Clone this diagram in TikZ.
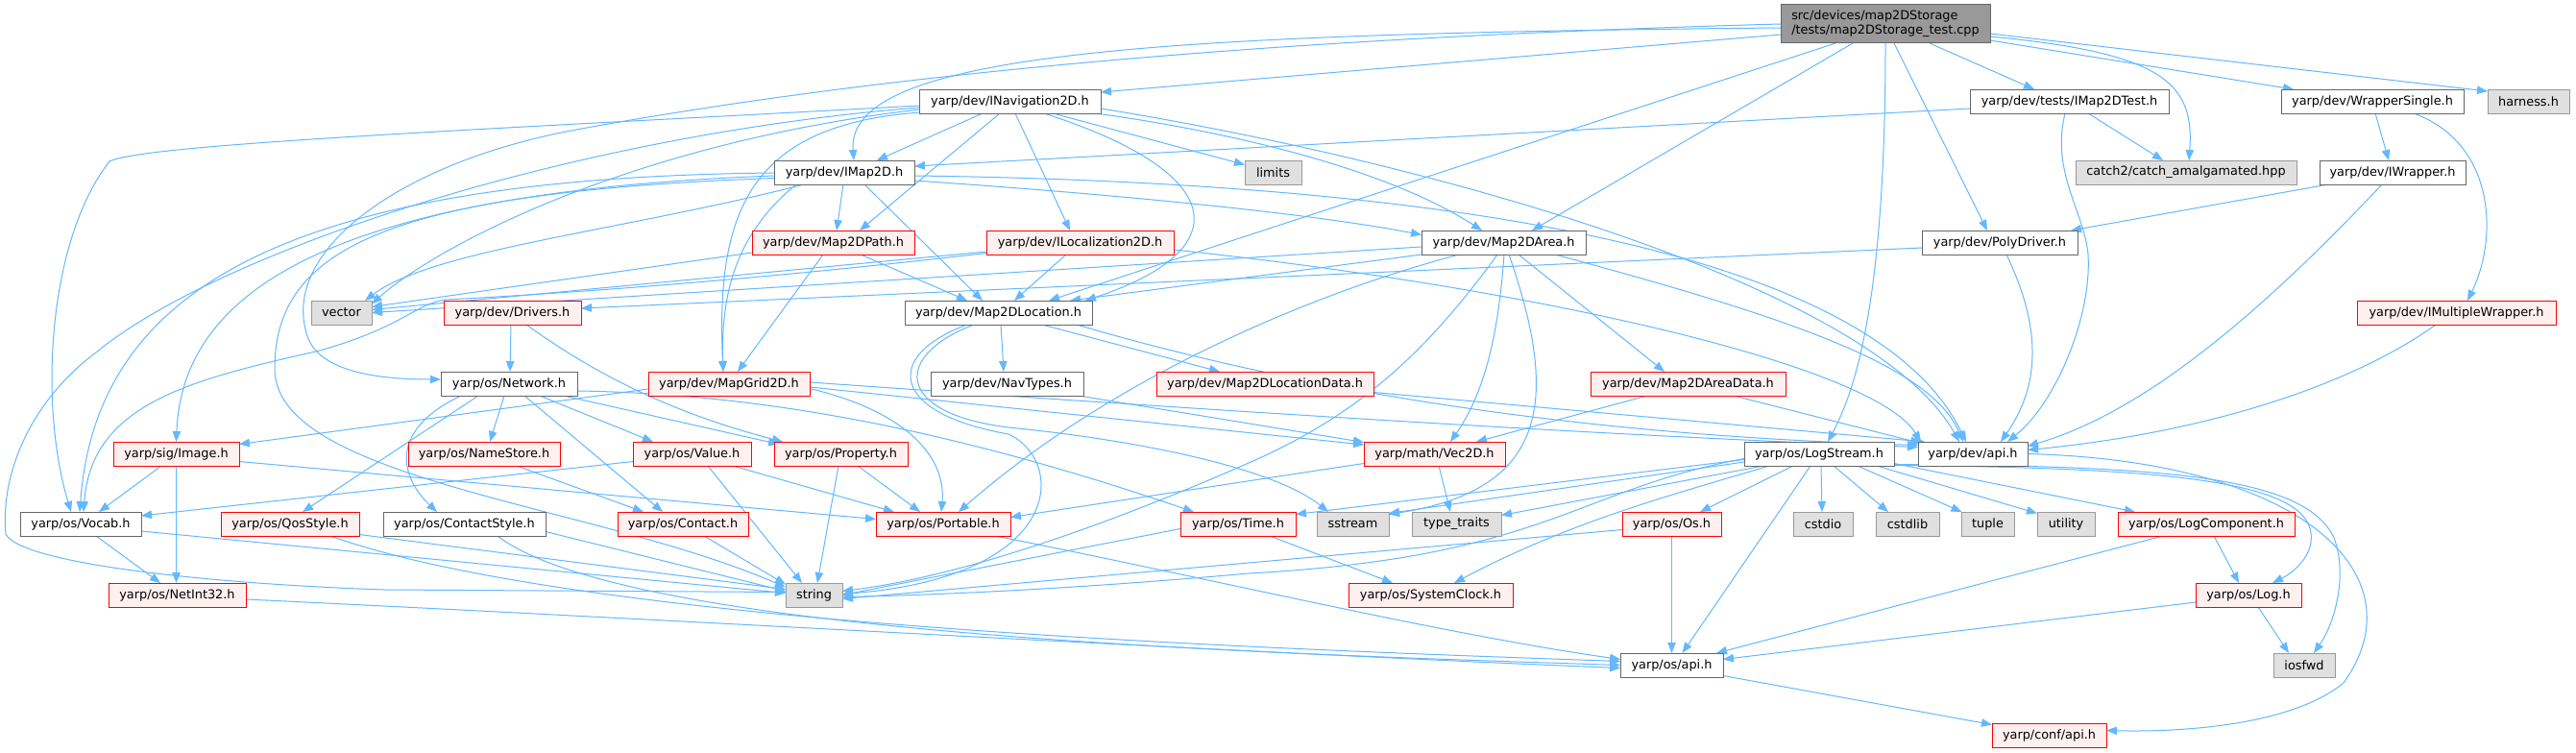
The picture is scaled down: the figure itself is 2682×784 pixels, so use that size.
\documentclass[tikz,border=0pt]{standalone}
\usepackage{fontspec}
\setmainfont{DejaVu Sans}
\usetikzlibrary{calc,arrows.meta}
\pgfdeclarelayer{bgl}
\pgfdeclarelayer{edl}
\pgfsetlayers{bgl,edl,main}
\definecolor{edgec}{HTML}{63B8FF}
\definecolor{bordg}{HTML}{666666}
\definecolor{fillr}{HTML}{FFF0F0}
\definecolor{bordgr}{HTML}{999999}
\definecolor{fillgr}{HTML}{E0E0E0}
\definecolor{fillroot}{HTML}{999999}
\begin{document}
\begin{tikzpicture}[x=1pt,y=-1pt,
  font=\fontsize{12.85}{15}\selectfont,
  bx/.style={draw=bordg,fill=white,line width=1pt,inner sep=0pt,outer sep=0pt,minimum height=25pt},
  br/.style={bx,draw=red,fill=fillr},
  bg/.style={bx,draw=bordgr,fill=fillgr},
  ed/.style={draw=edgec,line width=1pt,-{Triangle[length=11pt,width=8.5pt]}}]
\useasboundingbox (0,0) rectangle (2682,784);
\begin{pgfonlayer}{bgl}
\fill[white] (0,0) rectangle (2682,784);
\end{pgfonlayer}
% nodes
\node[bx,fill=fillroot,minimum width=218pt,minimum height=40pt,align=left] (root) at (1963,25) {src/devices/map2DStorage\\/tests/map2DStorage\_test.cpp};
\node[bx,minimum width=189pt] (nav) at (1051.5,105.5) {yarp/dev/INavigation2D.h};
\node[bx,minimum width=207pt] (test) at (2154.5,105.5) {yarp/dev/tests/IMap2DTest.h};
\node[bx,minimum width=190pt] (wsingle) at (2470,105.5) {yarp/dev/WrapperSingle.h};
\node[bg,minimum width=85pt] (harness) at (2632.5,105.5) {harness.h};
\node[bx,minimum width=146pt] (imap) at (879,179.5) {yarp/dev/IMap2D.h};
\node[bg,minimum width=59pt] (limits) at (1325.5,179.5) {limits};
\node[bg,minimum width=230pt] (catch) at (2276,179.5) {catch2/catch\_amalgamated.hpp};
\node[bx,minimum width=152pt] (iwrap) at (2491,179.5) {yarp/dev/IWrapper.h};
\node[br,minimum width=169pt] (path) at (867.5,252.5) {yarp/dev/Map2DPath.h};
\node[br,minimum width=195pt] (iloc) at (1124.5,252.5) {yarp/dev/ILocalization2D.h};
\node[bx,minimum width=171pt] (area) at (1565.5,252.5) {yarp/dev/Map2DArea.h};
\node[bx,minimum width=162pt] (poly) at (2082,252.5) {yarp/dev/PolyDriver.h};
\node[bg,minimum width=63pt] (vector) at (355.5,325.5) {vector};
\node[br,minimum width=143pt] (drivers) at (533.5,325.5) {yarp/dev/Drivers.h};
\node[bx,minimum width=195pt] (loc) at (1039.5,325.5) {yarp/dev/Map2DLocation.h};
\node[br,minimum width=207pt] (imw) at (2557.5,325.5) {yarp/dev/IMultipleWrapper.h};
\node[bx,minimum width=142pt] (network) at (530,399.5) {yarp/os/Network.h};
\node[br,minimum width=168pt] (grid) at (759,399.5) {yarp/dev/MapGrid2D.h};
\node[bx,minimum width=159pt] (navtypes) at (1048.5,399.5) {yarp/dev/NavTypes.h};
\node[br,minimum width=226pt] (locdata) at (1317,399.5) {yarp/dev/Map2DLocationData.h};
\node[br,minimum width=203pt] (areadata) at (1757.5,399.5) {yarp/dev/Map2DAreaData.h};
\node[br,minimum width=131pt] (image) at (183.5,472.5) {yarp/sig/Image.h};
\node[br,minimum width=158pt] (namestore) at (504,472.5) {yarp/os/NameStore.h};
\node[br,minimum width=123pt] (value) at (720.5,472.5) {yarp/os/Value.h};
\node[br,minimum width=139pt] (property) at (875.5,472.5) {yarp/os/Property.h};
\node[br,minimum width=147pt] (vec2d) at (1493.5,472.5) {yarp/math/Vec2D.h};
\node[bx,minimum width=156pt] (logstream) at (1894,472.5) {yarp/os/LogStream.h};
\node[bx,minimum width=114pt] (devapi) at (2054,472.5) {yarp/dev/api.h};
\node[bx,minimum width=126pt] (vocab) at (84,545.5) {yarp/os/Vocab.h};
\node[br,minimum width=144pt] (qos) at (302,545.5) {yarp/os/QosStyle.h};
\node[bx,minimum width=169pt] (cstyle) at (483.5,545.5) {yarp/os/ContactStyle.h};
\node[br,minimum width=136pt] (contact) at (711,545.5) {yarp/os/Contact.h};
\node[br,minimum width=140pt] (portable) at (982,545.5) {yarp/os/Portable.h};
\node[br,minimum width=120pt] (time) at (1289,545.5) {yarp/os/Time.h};
\node[bg,minimum width=75pt] (sstream) at (1408.5,545.5) {sstream};
\node[bg,minimum width=93pt] (ttraits) at (1516.5,545.5) {type\_traits};
\node[br,minimum width=103pt] (os) at (1740.5,545.5) {yarp/os/Os.h};
\node[bg,minimum width=62pt] (cstdio) at (1898,545.5) {cstdio};
\node[bg,minimum width=66pt] (cstdlib) at (1986,545.5) {cstdlib};
\node[bg,minimum width=55pt] (tuple) at (2069.5,545.5) {tuple};
\node[bg,minimum width=60pt] (utility) at (2151,545.5) {utility};
\node[br,minimum width=184pt] (logcomp) at (2297,545.5) {yarp/os/LogComponent.h};
\node[br,minimum width=143pt] (netint) at (184.5,619.5) {yarp/os/NetInt32.h};
\node[bg,minimum width=59pt] (string) at (847.5,619.5) {string};
\node[br,minimum width=171pt] (sysclock) at (1489.5,619.5) {yarp/os/SystemClock.h};
\node[br,minimum width=110pt] (log) at (2341,619.5) {yarp/os/Log.h};
\node[bx,minimum width=107pt] (osapi) at (1740.5,692.5) {yarp/os/api.h};
\node[bg,minimum width=64pt] (iosfwd) at (2399,692.5) {iosfwd};
\node[br,minimum width=119pt] (confapi) at (2133.5,765.5) {yarp/conf/api.h};
% edges
\begin{pgfonlayer}{edl}
% root
\draw[ed] ($(root)+(-109,11)$) -- ($(nav)+(94.5,-9.5)$);
\draw[ed] ($(root)+(-109,4)$) .. controls (1200,35) and (880,55) .. ($(imap)+(10,-12.5)$);
\draw[ed] ($(root)+(-34,20)$) -- ($(area)+(29.5,-12.5)$);
\draw[ed] ($(root)+(-52,20)$) -- ($(loc)+(52.5,-12.5)$);
\draw[ed] ($(root)+(0,20)$) .. controls (1963,300) and (1935,400) .. ($(logstream)+(9,-12.5)$);
\draw[ed] ($(root)+(9,20)$) -- ($(poly)+(-13,-12.5)$);
\draw[ed] ($(root)+(46,20)$) -- ($(test)+(-36.5,-12.5)$);
\draw[ed] ($(root)+(109,13)$) .. controls (2250,55) and (2285,85) .. ($(catch)+(3,-12.5)$);
\draw[ed] ($(root)+(109,17)$) -- ($(wsingle)+(-82,-12.5)$);
\draw[ed] ($(root)+(109,10)$) -- ($(harness)+(-42.5,-10.5)$);
\draw[ed] ($(root)+(-109,0)$) .. controls (1300,40) and (900,80) .. (600,135) .. controls (420,168) and (290,260) .. (320,350) .. controls (333,389) and (400,395) .. ($(network)+(-71,-4.5)$);
% nav
\draw[ed] ($(nav)+(-28.5,12.5)$) -- ($(imap)+(34,-12.5)$);
\draw[ed] ($(nav)+(-10.5,12.5)$) -- ($(path)+(27.5,-12.5)$);
\draw[ed] ($(nav)+(5.5,12.5)$) -- ($(iloc)+(-10.5,-12.5)$);
\draw[ed] ($(nav)+(35.5,12.5)$) .. controls (1280,180) and (1290,260) .. ($(loc)+(90.5,-12.5)$);
\draw[ed] ($(nav)+(44.5,12.5)$) -- ($(limits)+(-29.5,-8)$);
\draw[ed] ($(nav)+(89.5,12.5)$) .. controls (1300,140) and (1450,180) .. ($(area)+(-22.5,-12.5)$);
\draw[ed] ($(nav)+(94.5,7.5)$) .. controls (1500,170) and (1950,300) .. ($(devapi)+(-14,-12.5)$);
\draw[ed] ($(nav)+(-94.5,4.5)$) .. controls (500,135) and (150,150) .. (114,168) .. controls (50,250) and (40,420) .. ($(vocab)+(-10,-12.5)$);
\draw[ed] ($(nav)+(-94.5,6.5)$) .. controls (600,140) and (230,260) .. (100,367) .. controls (35,415) and (0,490) .. (6,556) .. controls (20,585) and (200,607) .. (400,614) -- ($(string)+(-29.5,-3)$);
\draw[ed] ($(nav)+(-94.5,8.5)$) .. controls (650,150) and (450,260) .. ($(vector)+(31.5,-9)$);
\draw[ed] ($(nav)+(-93.5,11.5)$) .. controls (780,130) and (745,220) .. ($(grid)+(-6,-12.5)$);
% imap
\draw[ed] ($(imap)+(-1,12.5)$) -- ($(path)+(3.5,-12.5)$);
\draw[ed] ($(imap)+(21,12.5)$) -- ($(loc)+(-16.5,-12.5)$);
\draw[ed] ($(imap)+(-50,12.5)$) .. controls (770,240) and (750,300) .. ($(grid)+(-6,-12.5)$);
\draw[ed] ($(imap)+(73,8.5)$) .. controls (1200,205) and (1380,225) .. ($(area)+(-85.5,-8)$);
\draw[ed] ($(imap)+(73,3.5)$) .. controls (1500,190) and (1950,260) .. ($(devapi)+(-7,-12.5)$);
\draw[ed] ($(imap)+(-42,12.5)$) .. controls (650,240) and (450,260) .. ($(vector)+(24.5,-12.5)$);
\draw[ed] ($(imap)+(-73,0.5)$) .. controls (300,185) and (100,300) .. ($(vocab)+(-1,-12.5)$);
\draw[ed] ($(imap)+(-73,3.5)$) .. controls (350,200) and (190,300) .. ($(image)+(0,-12.5)$);
\draw[ed] ($(imap)+(-73,6)$) .. controls (400,200) and (286,260) .. (286,384) .. controls (286,500) and (620,525) .. ($(string)+(-29.5,-8)$);
% path
\draw[ed] ($(path)+(28.5,12.5)$) -- ($(loc)+(-32.5,-12.5)$);
\draw[ed] ($(path)+(-10.5,12.5)$) -- ($(grid)+(9,-12.5)$);
\draw[ed] ($(path)+(-84.5,10.5)$) -- ($(vector)+(31.5,-6)$);
% iloc
\draw[ed] ($(iloc)+(-14.5,12.5)$) -- ($(loc)+(16.5,-12.5)$);
\draw[ed] ($(iloc)+(-97.5,9.5)$) -- ($(vector)+(31.5,-3)$);
\draw[ed] ($(iloc)+(-97.5,11)$) .. controls (800,290) and (600,305) .. (463,312) .. controls (430,318) and (420,340) .. (333,365) .. controls (200,395) and (95,420) .. ($(vocab)+(3,-12.5)$);
\draw[ed] ($(iloc)+(97.5,7.5)$) .. controls (1600,300) and (1950,380) .. ($(devapi)+(-54,-12.5)$);
% area
\draw[ed] ($(area)+(-85.5,12.5)$) -- ($(loc)+(74.5,-12.5)$);
\draw[ed] ($(area)+(-85.5,4.5)$) -- ($(vector)+(31.5,0)$);
\draw[ed] ($(area)+(15.5,12.5)$) -- ($(areadata)+(-24.5,-12.5)$);
\draw[ed] ($(area)+(0.5,12.5)$) .. controls (1560,350) and (1545,410) .. ($(vec2d)+(16.5,-12.5)$);
\draw[ed] ($(area)+(5.5,12.5)$) .. controls (1625,420) and (1610,510) .. ($(sstream)+(37.5,-10)$);
\draw[ed] ($(area)+(-6.5,12.5)$) .. controls (1490,360) and (1420,430) .. (1300,482) .. controls (1150,548) and (1000,600) .. ($(string)+(29.5,-4)$);
\draw[ed] ($(area)+(53.5,12.5)$) .. controls (1860,330) and (2010,380) .. ($(devapi)+(-10,-12.5)$);
\draw[ed] ($(area)+(-46.5,12.5)$) .. controls (1350,310) and (1150,400) .. ($(portable)+(16,-12.5)$);
% poly, iwrap, wsingle, test, imw
\draw[ed] ($(poly)+(-81,5.5)$) -- ($(drivers)+(71.5,-4.5)$);
\draw[ed] ($(poly)+(7,12.5)$) .. controls (2125,340) and (2125,400) .. ($(devapi)+(29,-12.5)$);
\draw[ed] ($(iwrap)+(-67,12.5)$) -- ($(poly)+(74,-12.5)$);
\draw[ed] ($(iwrap)+(-11,12.5)$) .. controls (2350,330) and (2230,430) .. ($(devapi)+(57,-8)$);
\draw[ed] ($(wsingle)+(3,12.5)$) -- ($(iwrap)+(-4,-12.5)$);
\draw[ed] ($(wsingle)+(43,12.5)$) .. controls (2600,150) and (2600,250) .. ($(imw)+(11.5,-12.5)$);
\draw[ed] ($(test)+(-103.5,7.5)$) -- ($(imap)+(73,-6.5)$);
\draw[ed] ($(test)+(19.5,12.5)$) -- ($(catch)+(-24,-12.5)$);
\draw[ed] ($(test)+(-4.5,12.5)$) .. controls (2135,180) and (2170,220) .. (2174,265) .. controls (2178,330) and (2140,420) .. ($(devapi)+(36,-12.5)$);
\draw[ed] ($(imw)+(-21.5,12.5)$) .. controls (2450,400) and (2300,450) .. ($(devapi)+(57,-4)$);
% drivers
\draw[ed] ($(drivers)+(-1.5,12.5)$) -- ($(network)+(1,-12.5)$);
\draw[ed] ($(drivers)+(14.5,12.5)$) .. controls (620,390) and (700,430) .. ($(property)+(-60.5,-12.5)$);
% loc
\draw[ed] ($(loc)+(2.5,12.5)$) -- ($(navtypes)+(-3.5,-12.5)$);
\draw[ed] ($(loc)+(45.5,12.5)$) -- ($(locdata)+(-47,-12.5)$);
\draw[ed] ($(loc)+(81.5,12.5)$) .. controls (1400,420) and (1700,455) .. ($(devapi)+(-57,-9)$);
\draw[ed] ($(loc)+(-32.5,12.5)$) .. controls (920,370) and (925,430) .. (1050,452) .. controls (1110,480) and (1110,600) .. ($(string)+(29.5,-1)$);
\draw[ed] ($(loc)+(-25.5,12.5)$) .. controls (930,370) and (930,430) .. (1050,445) .. controls (1200,460) and (1330,490) .. ($(sstream)+(-25.5,-12.5)$);
% grid
\draw[ed] ($(grid)+(-84,5.5)$) -- ($(image)+(65.5,-10)$);
\draw[ed] ($(grid)+(84,5)$) .. controls (950,430) and (985,480) .. ($(portable)+(-2,-12.5)$);
\draw[ed] ($(grid)+(84,3.5)$) -- ($(vec2d)+(-73.5,-9.5)$);
\draw[ed] ($(grid)+(84,-1.5)$) .. controls (1300,430) and (1700,455) .. ($(devapi)+(-57,-7)$);
% network
\draw[ed] ($(network)+(-5,12.5)$) -- ($(namestore)+(6,-12.5)$);
\draw[ed] ($(network)+(32,12.5)$) -- ($(value)+(-40.5,-12.5)$);
\draw[ed] ($(network)+(16,12.5)$) -- ($(contact)+(-21,-12.5)$);
\draw[ed] ($(network)+(-32,12.5)$) -- ($(qos)+(13,-12.5)$);
\draw[ed] ($(network)+(-50,12.5)$) .. controls (400,450) and (420,500) .. ($(cstyle)+(-28.5,-12.5)$);
\draw[ed] ($(network)+(57,12.5)$) -- ($(property)+(-64.5,-10)$);
\draw[ed] ($(network)+(71,7.5)$) .. controls (800,410) and (1000,450) .. ($(time)+(-46,-12.5)$);
% image, namestore, value, property, contact
\draw[ed] ($(image)+(-15.5,12.5)$) -- ($(vocab)+(19,-12.5)$);
\draw[ed] ($(image)+(0,12.5)$) -- ($(netint)+(-1,-12.5)$);
\draw[ed] ($(image)+(65.5,8)$) -- ($(portable)+(-70,-5)$);
\draw[ed] ($(namestore)+(34,12.5)$) -- ($(contact)+(-41,-12.5)$);
\draw[ed] ($(value)+(-61.5,8)$) -- ($(vocab)+(63,-8.5)$);
\draw[ed] ($(value)+(16.5,12.5)$) -- ($(string)+(-12.5,-12.5)$);
\draw[ed] ($(value)+(42.5,12.5)$) -- ($(portable)+(-51,-12.5)$);
\draw[ed] ($(property)+(-2.5,12.5)$) -- ($(string)+(3.5,-12.5)$);
\draw[ed] ($(property)+(17.5,12.5)$) -- ($(portable)+(-24,-12.5)$);
\draw[ed] ($(contact)+(22,12.5)$) -- ($(string)+(-29.5,-11)$);
% qos, cstyle, vocab, netint, portable
\draw[ed] ($(qos)+(72,11)$) -- ($(string)+(-29.5,-6)$);
\draw[ed] ($(qos)+(42,12.5)$) .. controls (600,650) and (1300,675) .. ($(osapi)+(-53.5,-4)$);
\draw[ed] ($(cstyle)+(84.5,8)$) -- ($(string)+(-29.5,-4)$);
\draw[ed] ($(cstyle)+(34.5,12.5)$) .. controls (650,660) and (1300,680) .. ($(osapi)+(-53.5,0)$);
\draw[ed] ($(vocab)+(16,12.5)$) -- ($(netint)+(-17.5,-12.5)$);
\draw[ed] ($(vocab)+(63,7.5)$) -- ($(string)+(-29.5,-2)$);
\draw[ed] ($(netint)+(71.5,4.5)$) .. controls (700,645) and (1300,680) .. ($(osapi)+(-53.5,3)$);
\draw[ed] ($(portable)+(54,12.5)$) .. controls (1250,600) and (1500,660) .. ($(osapi)+(-53.5,-6)$);
% time, vec2d, navtypes, locdata, areadata
\draw[ed] ($(time)+(33,12.5)$) -- ($(sysclock)+(-39.5,-12.5)$);
\draw[ed] ($(time)+(-60,5)$) -- ($(string)+(29.5,0)$);
\draw[ed] ($(vec2d)+(4.5,12.5)$) -- ($(ttraits)+(-6.5,-12.5)$);
\draw[ed] ($(vec2d)+(-73.5,10)$) -- ($(portable)+(70,-7)$);
\draw[ed] ($(navtypes)+(74.5,12.5)$) -- ($(vec2d)+(-73.5,-12)$);
\draw[ed] ($(locdata)+(113,9)$) -- ($(devapi)+(-50,-12.5)$);
\draw[ed] ($(areadata)+(-42.5,12.5)$) -- ($(vec2d)+(43.5,-12.5)$);
\draw[ed] ($(areadata)+(47.5,12.5)$) -- ($(devapi)+(-54,-11)$);
% logstream
\draw[ed] ($(logstream)+(-78,6)$) -- ($(time)+(60,-10)$);
\draw[ed] ($(logstream)+(-78,8.5)$) -- ($(sstream)+(37.5,-11)$);
\draw[ed] ($(logstream)+(-58,12.5)$) -- ($(ttraits)+(46.5,-9)$);
\draw[ed] ($(logstream)+(-27,12.5)$) -- ($(os)+(29.5,-12.5)$);
\draw[ed] ($(logstream)+(2,12.5)$) -- ($(cstdio)+(-1,-12.5)$);
\draw[ed] ($(logstream)+(15,12.5)$) -- ($(cstdlib)+(-20,-12.5)$);
\draw[ed] ($(logstream)+(40,12.5)$) -- ($(tuple)+(-27,-12.5)$);
\draw[ed] ($(logstream)+(60,12.5)$) -- ($(utility)+(-30,-11)$);
\draw[ed] ($(logstream)+(78,10)$) -- ($(logcomp)+(-74,-12.5)$);
\draw[ed] ($(logstream)+(78,12)$) .. controls (2250,487) and (2390,500) .. (2405,550) .. controls (2412,575) and (2390,595) .. ($(log)+(25,-12.5)$);
\draw[ed] ($(logstream)+(78,11)$) .. controls (2250,485) and (2400,495) .. (2430,560) .. controls (2445,600) and (2430,650) .. ($(iosfwd)+(10,-12.5)$);
\draw[ed] ($(logstream)+(-9,12.5)$) -- ($(osapi)+(11,-12.5)$);
\draw[ed] ($(logstream)+(-52,12.5)$) .. controls (1760,510) and (1640,540) .. ($(sysclock)+(24.5,-12.5)$);
\draw[ed] ($(logstream)+(-78,5)$) .. controls (1640,510) and (1610,580) .. (1300,597) .. controls (1100,615) and (950,620) .. ($(string)+(29.5,2)$);
% os, logcomp, log, osapi, devapi
\draw[ed] ($(os)+(0,12.5)$) -- ($(osapi)+(0,-12.5)$);
\draw[ed] ($(os)+(-51.5,6)$) -- ($(string)+(29.5,4)$);
\draw[ed] ($(logcomp)+(8,12.5)$) -- ($(log)+(-10,-12.5)$);
\draw[ed] ($(logcomp)+(-45,12.5)$) -- ($(osapi)+(46.5,-12.5)$);
\draw[ed] ($(log)+(10,12.5)$) -- ($(iosfwd)+(-16,-12.5)$);
\draw[ed] ($(log)+(-55,7.5)$) -- ($(osapi)+(53.5,-6)$);
\draw[ed] ($(osapi)+(53.5,11)$) -- ($(confapi)+(-59.5,-11)$);
\draw[ed] ($(devapi)+(57,0)$) .. controls (2400,480) and (2520,600) .. (2440,711) .. controls (2380,760) and (2250,762) .. ($(confapi)+(59.5,-5)$);
\end{pgfonlayer}
\end{tikzpicture}
\end{document}
